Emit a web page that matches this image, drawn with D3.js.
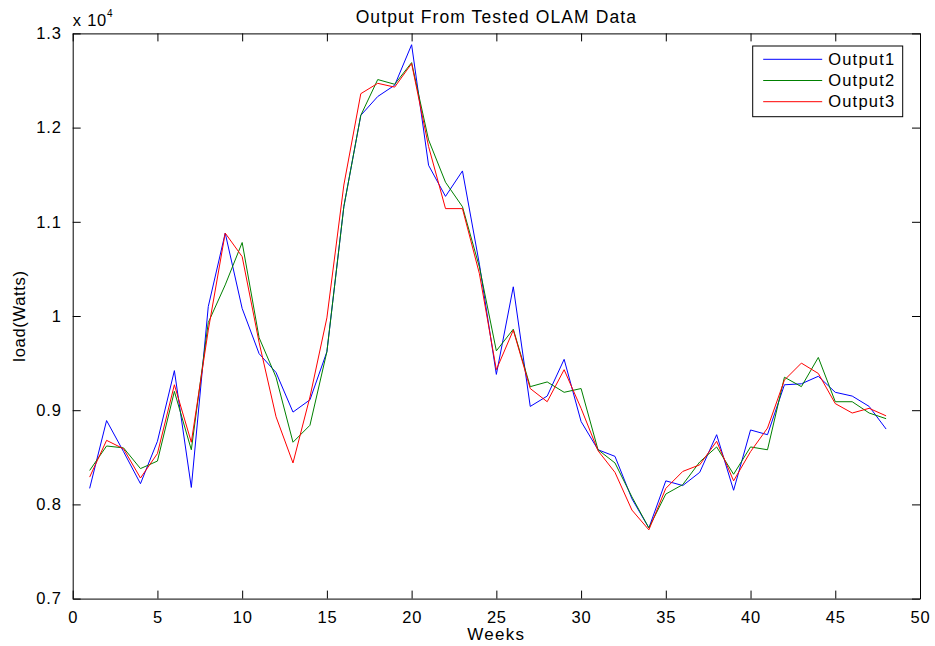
<!DOCTYPE html>
<html>
<head>
<meta charset="utf-8">
<script src="https://cdn.jsdelivr.net/npm/d3@7"></script>
<style>
  body { margin: 0; background: #fff; }
  text { font-family: "Liberation Sans", Arial, sans-serif; fill: #000; }
</style>
</head>
<body>
<div id="chart"></div>
<script>
var weeks = d3.range(1, 49);

var output1 = [8170, 8890, 8560, 8220, 8670, 9420, 8180, 10100, 10880, 10080,
  9600, 9400, 8980, 9110, 9620, 11160, 12130, 12330, 12450, 12880,
  11600, 11270, 11540, 10550, 9380, 10310, 9040, 9150, 9540, 8880,
  8580, 8510, 8060, 7750, 8250, 8200, 8340, 8740, 8150, 8790,
  8740, 9270, 9280, 9360, 9190, 9150, 9040, 8800];

var output2 = [8360, 8620, 8600, 8380, 8460, 9200, 8580, 9930, 10330, 10780,
  9770, 9350, 8660, 8840, 9620, 11160, 12130, 12510, 12460, 12690,
  11870, 11420, 11160, 10520, 9630, 9860, 9250, 9300, 9190, 9230,
  8580, 8440, 8080, 7750, 8110, 8210, 8450, 8610, 8320, 8610,
  8580, 9350, 9250, 9560, 9090, 9090, 8970, 8910];

var output3 = [8290, 8680, 8590, 8280, 8540, 9270, 8660, 9850, 10880, 10630,
  9720, 8930, 8440, 9140, 9980, 11390, 12360, 12470, 12430, 12680,
  11800, 11140, 11140, 10450, 9430, 9850, 9230, 9090, 9430, 9020,
  8570, 8340, 7940, 7730, 8170, 8350, 8420, 8670, 8250, 8560,
  8810, 9320, 9500, 9390, 9070, 8970, 9020, 8940];

var seriesNames = ["Output1", "Output2", "Output3"];
var seriesColors = ["#0000ff", "#008000", "#ff0000"];
var xTicks = [0, 5, 10, 15, 20, 25, 30, 35, 40, 45, 50];
var yTicks = [7000, 8000, 9000, 10000, 11000, 12000, 13000];

var margin = { top: 33.4, right: 15, bottom: 47.4, left: 72.7 };
var W = 935, H = 646;
var width = W - margin.left - margin.right;
var height = H - margin.top - margin.bottom;

var svg = d3.select("#chart").append("svg")
  .attr("width", W)
  .attr("height", H);

var g = svg.append("g")
  .attr("transform", "translate(" + margin.left + "," + margin.top + ")");

var x = d3.scaleLinear().domain([0, 50]).range([0, width]);
var y = d3.scaleLinear().domain([7000, 13000]).range([height, 0]);

var tickLen = 8;

// bottom + top axes (ticks inward)
g.append("g")
  .attr("transform", "translate(0," + height + ")")
  .call(d3.axisBottom(x).tickValues(xTicks).tickSizeInner(-tickLen).tickSizeOuter(0).tickPadding(13))
  .call(a => a.select(".domain").attr("stroke", "#000"))
  .call(a => a.selectAll("text").attr("font-size", "16.5px").attr("letter-spacing", "0.8px"));

g.append("g")
  .call(d3.axisTop(x).tickValues(xTicks).tickSizeInner(-tickLen).tickSizeOuter(0).tickFormat(""))
  .call(a => a.select(".domain").attr("stroke", "#000"));

// left + right axes
g.append("g")
  .call(d3.axisLeft(y).tickValues(yTicks).tickSizeInner(-tickLen).tickSizeOuter(0).tickPadding(11)
    .tickFormat(d => d3.format("")(+(d / 10000).toFixed(1))))
  .call(a => a.select(".domain").attr("stroke", "#000"))
  .call(a => a.selectAll("text").attr("font-size", "16.5px").attr("letter-spacing", "0.8px"));

g.append("g")
  .attr("transform", "translate(" + width + ",0)")
  .call(d3.axisRight(y).tickValues(yTicks).tickSizeInner(-tickLen).tickSizeOuter(0).tickFormat(""))
  .call(a => a.select(".domain").attr("stroke", "#000"));

// exponent label
var expo = g.append("text")
  .attr("x", 0)
  .attr("y", -7)
  .attr("font-size", "16.5px")
  .attr("letter-spacing", "0.8px");
expo.append("tspan").text("x 10");
expo.append("tspan").attr("dy", -9).attr("font-size", "10px").text("4");

// lines
var allSeries = [output1, output2, output3];
var line = d3.line()
  .x((d, i) => x(weeks[i]))
  .y(d => y(d));

g.selectAll(".series")
  .data(allSeries)
  .enter()
  .append("path")
  .attr("class", "series")
  .attr("d", d => line(d))
  .attr("fill", "none")
  .attr("stroke", (d, i) => seriesColors[i])
  .attr("stroke-width", 1);

// title and axis labels
svg.append("text")
  .attr("x", margin.left + width / 2)
  .attr("y", 22.5)
  .attr("text-anchor", "middle")
  .attr("font-size", "17.5px")
  .attr("letter-spacing", "1.1px")
  .text("Output From Tested OLAM Data");

svg.append("text")
  .attr("x", margin.left + width / 2)
  .attr("y", 640)
  .attr("text-anchor", "middle")
  .attr("font-size", "17px")
  .attr("letter-spacing", "1.3px")
  .text("Weeks");

svg.append("text")
  .attr("transform", "translate(25," + (margin.top + height / 2) + ") rotate(-90)")
  .attr("text-anchor", "middle")
  .attr("font-size", "16.5px")
  .attr("letter-spacing", "0.7px")
  .text("load(Watts)");

// legend
var legend = svg.append("g").attr("transform", "translate(752.7,46)");
legend.append("rect")
  .attr("width", 150)
  .attr("height", 70.7)
  .attr("fill", "#fff")
  .attr("stroke", "#000")
  .attr("stroke-width", 1);

var rows = legend.selectAll(".row")
  .data(seriesNames)
  .enter()
  .append("g")
  .attr("transform", (d, i) => "translate(0," + (13.3 + i * 21.2) + ")");

rows.append("line")
  .attr("x1", 10.5).attr("x2", 69.5)
  .attr("stroke", (d, i) => seriesColors[i])
  .attr("stroke-width", 1);

rows.append("text")
  .attr("x", 75.5)
  .attr("dy", "0.35em")
  .attr("font-size", "16.5px")
  .attr("letter-spacing", "1.2px")
  .text(d => d);
</script>
</body>
</html>
